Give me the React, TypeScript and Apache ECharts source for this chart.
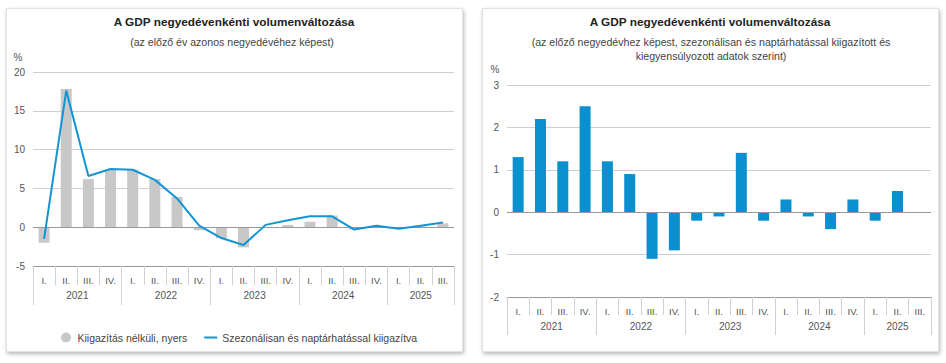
import React, { useEffect, useRef } from "react";
import * as echarts from "echarts";

const quarters = ["I.", "II.", "III.", "IV.", "I.", "II.", "III.", "IV.", "I.", "II.", "III.", "IV.", "I.", "II.", "III.", "IV.", "I.", "II.", "III."];
const years = ["2021", "2022", "2023", "2024", "2025"];
const quartersPerYear = [4, 4, 4, 4, 3];

// Left chart: change vs same quarter of previous year
const rawYoY = [-2.0, 17.8, 6.2, 7.4, 7.4, 6.2, 3.9, -0.4, -1.4, -2.6, -0.1, 0.3, 0.7, 1.5, -0.3, 0.1, 0.0, 0.1, 0.5];
const adjYoY = [-1.5, 17.6, 6.6, 7.5, 7.4, 6.1, 3.7, 0.2, -1.4, -2.3, 0.3, 0.9, 1.4, 1.4, -0.3, 0.2, -0.2, 0.2, 0.6];

// Right chart: change vs previous quarter
const qoq = [1.3, 2.2, 1.2, 2.5, 1.2, 0.9, -1.1, -0.9, -0.2, -0.1, 1.4, -0.2, 0.3, -0.1, -0.4, 0.3, -0.2, 0.5, null];

const leftTicks = { min: -5, max: 20, interval: 5 };
const rightTicks = { min: -2, max: 3, interval: 1 };

const rawName = "Kiigazítás nélküli, nyers";
const adjName = "Szezonálisan és naptárhatással kiigazítva";

const FONT = "Liberation Sans, Arial, sans-serif";
const GRAY_BAR = "#c8c8c8";
const BLUE = "#1295d3";
const BLUE_BAR = "#0a8fcf";

const yearStarts: number[] = [];
const yearCenters: number[] = [];
{
  let acc = 0;
  quartersPerYear.forEach((n) => {
    yearStarts.push(acc);
    yearCenters.push(acc + n / 2);
    acc += n;
  });
  yearStarts.push(acc);
}

function xAxes(gridIndex: number, qMargin: number, yMargin: number, qTick: number, yTick: number) {
  return [
    {
      type: "category",
      gridIndex,
      data: quarters,
      position: "bottom",
      axisLine: { onZero: false, lineStyle: { color: "#999", width: 1 } },
      axisTick: { show: true, length: qTick, lineStyle: { color: "#d0d0d0" } },
      axisLabel: { color: "#555", fontSize: 9.5, fontFamily: FONT, margin: qMargin, interval: 0 },
      splitLine: { show: false },
    },
    {
      type: "value",
      gridIndex,
      min: 0,
      max: quarters.length,
      position: "bottom",
      axisLine: { show: false, onZero: false },
      splitLine: { show: false },
      axisTick: { show: true, length: yTick, customValues: yearStarts, lineStyle: { color: "#d0d0d0" } },
      axisLabel: {
        show: true,
        customValues: yearCenters,
        color: "#555",
        fontSize: 10,
        fontFamily: FONT,
        margin: yMargin,
        formatter: (v: number) => {
          const idx = yearCenters.findIndex((c) => Math.abs(c - v) < 1e-6);
          return idx >= 0 ? years[idx] : "";
        },
      },
    },
  ];
}

function yAxis(gridIndex: number, t: { min: number; max: number; interval: number }) {
  return {
    type: "value",
    gridIndex,
    min: t.min,
    max: t.max,
    interval: t.interval,
    axisLine: { show: false },
    axisTick: { show: false },
    axisLabel: { color: "#555", fontSize: 10, fontFamily: FONT, margin: 8 },
    splitLine: { lineStyle: { color: "#cfcfcf", width: 1 } },
  };
}

const zeroLine = {
  silent: true,
  symbol: "none",
  label: { show: false },
  lineStyle: { color: "#999", width: 1, type: "solid" },
  data: [{ yAxis: 0 }],
};

export default function App() {
  const ref = useRef<HTMLDivElement>(null);

  useEffect(() => {
    if (!ref.current) return;
    const chart = echarts.init(ref.current, null, { renderer: "svg" });
    const xa = [...xAxes(0, 9, 24, 19, 39), ...xAxes(1, 9, 24, 18, 38)];
    const sub = `10.6px ${FONT}`;
    const option: any = {
      animation: false,
      textStyle: { fontFamily: FONT },
      grid: [
        { left: 33, right: 492, top: 72, bottom: 97 },
        { left: 507, right: 15, top: 85, bottom: 66 },
      ],
      xAxis: xa,
      yAxis: [yAxis(0, leftTicks), yAxis(1, rightTicks)],
      legend: {
        left: 56,
        top: 327,
        textStyle: { color: "#444", fontSize: 10.5, fontFamily: FONT },
        itemWidth: 13,
        itemHeight: 10,
        itemGap: 17,
        symbolKeepAspect: true,
        data: [
          { name: rawName, icon: "circle" },
          { name: adjName, icon: "path://M0,0H13V2H0Z" },
        ],
        selectedMode: false,
      },
      graphic: [
        { type: "text", x: 234, y: 22, style: { text: "A GDP negyedévenkénti volumenváltozása", font: `bold 11.8px ${FONT}`, fill: "#222", textAlign: "center", textVerticalAlign: "middle" } },
        { type: "text", x: 232, y: 42, style: { text: "(az előző év azonos negyedévéhez képest)", font: sub, fill: "#444", textAlign: "center", textVerticalAlign: "middle" } },
        { type: "text", x: 18, y: 57, style: { text: "%", font: `10px ${FONT}`, fill: "#555", textAlign: "center", textVerticalAlign: "middle" } },
        { type: "text", x: 710, y: 22, style: { text: "A GDP negyedévenkénti volumenváltozása", font: `bold 11.8px ${FONT}`, fill: "#222", textAlign: "center", textVerticalAlign: "middle" } },
        { type: "text", x: 711, y: 42, style: { text: "(az előző negyedévhez képest, szezonálisan és naptárhatással kiigazított és", font: sub, fill: "#444", textAlign: "center", textVerticalAlign: "middle" } },
        { type: "text", x: 711, y: 56, style: { text: "kiegyensúlyozott adatok szerint)", font: sub, fill: "#444", textAlign: "center", textVerticalAlign: "middle" } },
        { type: "text", x: 495, y: 69, style: { text: "%", font: `10px ${FONT}`, fill: "#555", textAlign: "center", textVerticalAlign: "middle" } },
      ],
      series: [
        {
          name: rawName,
          type: "bar",
          xAxisIndex: 0,
          yAxisIndex: 0,
          data: rawYoY,
          barWidth: 11,
          itemStyle: { color: GRAY_BAR },
          markLine: zeroLine,
          z: 2,
        },
        {
          name: adjName,
          type: "line",
          xAxisIndex: 0,
          yAxisIndex: 0,
          data: adjYoY,
          symbol: "none",
          lineStyle: { color: BLUE, width: 2 },
          itemStyle: { color: BLUE },
          z: 5,
        },
        {
          name: "qoq",
          type: "bar",
          xAxisIndex: 2,
          yAxisIndex: 1,
          data: qoq,
          barWidth: 11,
          itemStyle: { color: BLUE_BAR },
          markLine: zeroLine,
        },
      ],
    };
    chart.setOption(option);
    return () => chart.dispose();
  }, []);

  const panel = (left: number, width: number): React.CSSProperties => ({
    position: "absolute",
    left,
    top: 8,
    width,
    height: 344,
    background: "#fff",
    border: "1px solid #e2e2e2",
    boxShadow: "1px 2px 4px rgba(0,0,0,0.28)",
    boxSizing: "border-box",
  });

  return (
    <div style={{ position: "fixed", left: 0, top: 0, width: 946, height: 363, background: "#fff" }}>
      <div style={panel(6, 457)} />
      <div style={panel(482, 457)} />
      <div ref={ref} style={{ position: "absolute", left: 0, top: 0, width: 946, height: 363 }} />
    </div>
  );
}
